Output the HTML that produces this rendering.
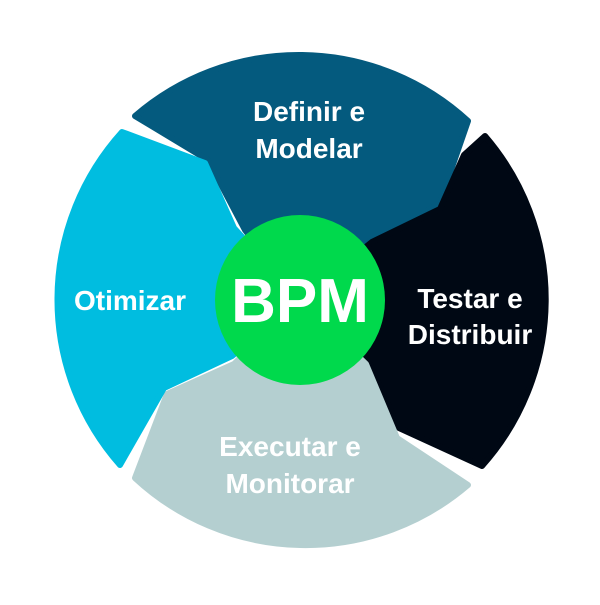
<!DOCTYPE html>
<html><head><style>html,body{margin:0;padding:0;background:#fff}</style></head><body>
<svg width="600" height="600" viewBox="0 0 600 600" xmlns="http://www.w3.org/2000/svg">
<g stroke-linejoin="round" stroke-width="6">
<path d="M135,116 A250 250 0 0 1 468,121 L440,202 L300,300 L245,230 L208,160 Z" fill="#045a7e" stroke="#045a7e"/>
<path d="M485,136 A250 250 0 0 1 482,466 L399,428 L368,360 L300,300 L372,242 L440,209 L464,155 Z" fill="#000814" stroke="#000814"/>
<path d="M468,485 A250 250 0 0 1 135,478 L167,394 L234,364 L300,300 L366,364 L397,438 Z" fill="#b4cfd0" stroke="#b4cfd0"/>
<path d="M120,465 A250 250 0 0 1 122,132 L205,163 L234,228 L300,300 L232,356 L164,388 Z" fill="#00bde0" stroke="#00bde0"/>
</g>
<circle cx="300" cy="300" r="85" fill="#00d94c"/>
<g font-family="Liberation Sans, sans-serif" font-weight="bold" fill="#fff" text-anchor="middle">
<text x="300" y="322" font-size="62">BPM</text>
<text x="309" y="121" font-size="28">Definir e</text>
<text x="309" y="158" font-size="28">Modelar</text>
<text x="130" y="310" font-size="28">Otimizar</text>
<text x="470" y="308" font-size="28">Testar e</text>
<text x="470" y="344" font-size="28">Distribuir</text>
<text x="290" y="456" font-size="28">Executar e</text>
<text x="290" y="493" font-size="28">Monitorar</text>
</g>
</svg>
</body></html>
